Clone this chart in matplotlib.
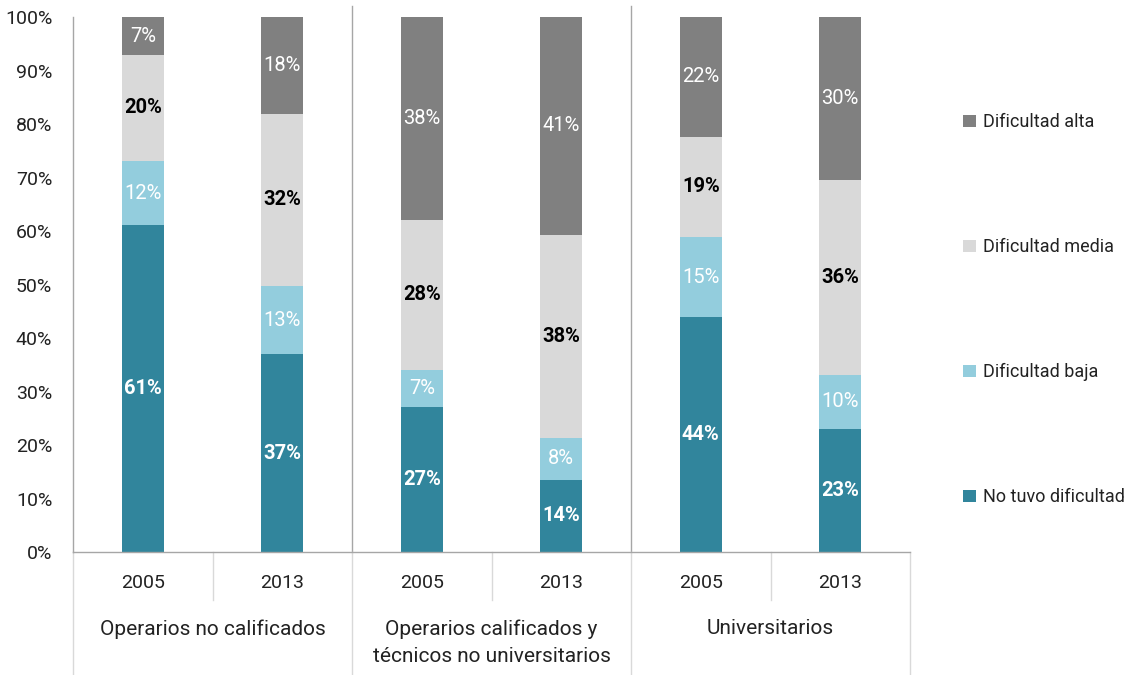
import matplotlib
matplotlib.use("Agg")
import matplotlib.pyplot as plt
from matplotlib.patches import Patch
import numpy as np

plt.rcParams['font.family'] = ['Roboto', 'DejaVu Sans']

groups = ["Operarios no calificados", "Operarios calificados y\ntécnicos no universitarios", "Universitarios"]
years = ["2005", "2013", "2005", "2013", "2005", "2013"]
series_names = ["No tuvo dificultad", "Dificultad baja", "Dificultad media", "Dificultad alta"]
no_tuvo = [61.1, 37.0, 27.1, 13.5, 43.9, 23.0]
baja = [12.0, 12.7, 6.9, 7.8, 15.0, 10.1]
media = [19.8, 32.2, 28.1, 38.0, 18.7, 36.4]
alta = [7.1, 18.1, 37.9, 40.7, 22.4, 30.5]
colors = ["#31859C", "#93CDDD", "#D9D9D9", "#808080"]
label_colors = ["white", "white", "black", "white"]
label_weights = ["bold", "normal", "bold", "normal"]

fig = plt.figure(figsize=(11.27, 6.75), dpi=100)
ax = fig.add_axes([0.0648, 0.1822, 0.8075 - 0.0648, 0.9748 - 0.1822])

x = np.arange(len(years))
bottom = np.zeros(len(years))
all_series = [no_tuvo, baja, media, alta]
handles = []
for vals, c, lc, lw, name in zip(all_series, colors, label_colors, label_weights, series_names):
    vals = np.array(vals)
    ax.bar(x, vals, width=0.3, bottom=bottom, color=c, edgecolor='none')
    for xi, b, v in zip(x, bottom, vals):
        ax.text(xi, b + v / 2, "{:.0f}%".format(v), ha='center', va='center',
                color=lc, fontsize=14.5, fontweight=lw)
    bottom = bottom + vals
    handles.append(Patch(facecolor=c, edgecolor='none', label=name))

ax.set_xlim(-0.5, len(years) - 0.5)
ax.set_ylim(0, 100)
ax.set_yticks(np.arange(0, 101, 10))
ax.set_yticklabels(["{}%".format(v) for v in range(0, 101, 10)], fontsize=14, color='#222222')
ax.tick_params(axis='y', length=0, pad=15)
ax.set_xticks([])
for s in ['top', 'right']:
    ax.spines[s].set_visible(False)
ax.spines['left'].set_color('#A6A6A6')
ax.spines['bottom'].set_color('#A6A6A6')
ax.spines['left'].set_linewidth(1.0)
ax.spines['bottom'].set_linewidth(1.0)

trans = ax.get_xaxis_transform()
# group separators inside plot
for gx in [1.5, 3.5]:
    ax.plot([gx, gx], [0, 1.02], transform=trans, color='#A6A6A6', lw=1.0, clip_on=False)
# category axis lines
for gx in [-0.5, 1.5, 3.5, 5.5]:
    ax.plot([gx, gx], [0, -0.2299], transform=trans, color='#D9D9D9', lw=1.0, clip_on=False)
for gx in [0.5, 2.5, 4.5]:
    ax.plot([gx, gx], [0, -0.0897], transform=trans, color='#D9D9D9', lw=1.0, clip_on=False)

for xi, yr in zip(x, years):
    ax.text(xi, -0.057, yr, transform=trans, ha='center', va='center', fontsize=14, color='#222222')
for gi, g in enumerate(groups):
    ax.text(2 * gi + 0.5, -0.126, g, transform=trans, ha='center', va='top', fontsize=15,
            color='#222222', linespacing=1.55)

leg = fig.legend(handles=handles[::-1], loc='center left', bbox_to_anchor=(0.840, 0.541),
                 frameon=False, fontsize=13, labelspacing=5.93, handlelength=0.7,
                 handleheight=0.7, handletextpad=0.4)
for t in leg.get_texts():
    t.set_color('#222222')

fig.savefig("out.png", dpi=100)
